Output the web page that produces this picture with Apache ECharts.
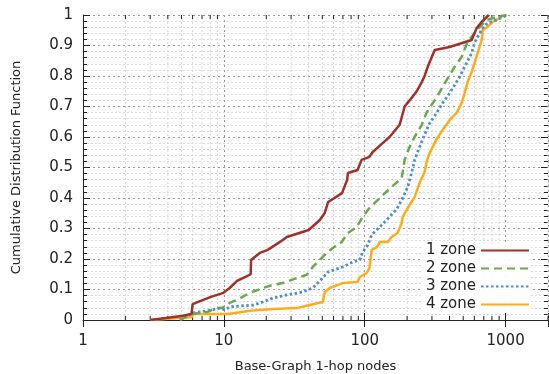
<!DOCTYPE html>
<html>
<head>
<meta charset="utf-8">
<script src="https://cdn.jsdelivr.net/npm/echarts@6/dist/echarts.min.js"></script>
<style>
  html, body { margin: 0; padding: 0; background: #fff; }
  #chart { width: 549px; height: 374px; }
</style>
</head>
<body>
<div id="chart"></div>
<script>
// CDF points: [nodes, cumulative fraction]
var zone1 = [
  [3, 0], [5, 0.013], [5.9, 0.02], [6, 0.052], [8, 0.075], [9.8, 0.088], [11, 0.105],
  [12.4, 0.128], [14, 0.14], [15.5, 0.15], [15.6, 0.197], [18, 0.22], [20.5, 0.23],
  [25, 0.256], [28, 0.272], [40, 0.295], [48, 0.328], [52, 0.351], [55, 0.387],
  [69, 0.416], [75, 0.459], [76, 0.482], [89, 0.492], [95, 0.525], [108, 0.535],
  [114, 0.551], [134, 0.58], [150, 0.6], [177, 0.64], [192, 0.7], [208, 0.72],
  [234, 0.75], [254, 0.78], [266, 0.8], [280, 0.83], [314, 0.885], [401, 0.895],
  [574, 0.918], [623, 0.957], [676, 0.977], [760, 1.0]
];
var zone2 = [
  [4.9, 0], [6, 0.02], [7.6, 0.026], [8.9, 0.039], [9.7, 0.039], [11, 0.056],
  [12.4, 0.066], [15.3, 0.089], [18.9, 0.105], [22.3, 0.115], [26.2, 0.121],
  [33, 0.138], [38.8, 0.148], [42.8, 0.174], [48, 0.197], [53.8, 0.22], [59.3, 0.236],
  [68.7, 0.256], [75.7, 0.285], [87.7, 0.305], [96.8, 0.338], [108, 0.367],
  [128, 0.4], [150, 0.43], [183, 0.466], [192, 0.525], [208, 0.567], [226, 0.6],
  [254, 0.64], [275, 0.68], [324, 0.73], [382, 0.787], [435, 0.83], [487, 0.862],
  [537, 0.911], [602, 0.941], [654, 0.96], [733, 0.984], [863, 0.993], [1016, 1.0]
];
var zone3 = [
  [4.87, 0], [6, 0.023], [7.6, 0.03], [9.4, 0.039], [10.2, 0.033], [11, 0.043],
  [13, 0.046], [16.1, 0.049], [18.9, 0.059], [22.3, 0.072], [28, 0.082], [36.3, 0.092],
  [42.8, 0.105], [50.4, 0.138], [54.6, 0.157], [69.8, 0.174], [82.2, 0.19],
  [92.2, 0.197], [96.8, 0.223], [105, 0.246], [112, 0.279], [128, 0.305],
  [150, 0.338], [169, 0.364], [186, 0.4], [202, 0.436], [215, 0.482], [226, 0.525],
  [245, 0.567], [266, 0.607], [289, 0.646], [324, 0.679], [357, 0.711], [401, 0.744],
  [472, 0.797], [529, 0.843], [574, 0.875], [602, 0.908], [633, 0.928], [687, 0.957],
  [745, 0.974], [863, 0.984], [952, 0.993], [1033, 1.0]
];
var zone4 = [
  [3, 0], [5.1, 0.007], [5.93, 0.01], [6, 0.02], [10.7, 0.02], [11, 0.026],
  [15.3, 0.03], [22.3, 0.036], [33, 0.039], [40.7, 0.049], [50.4, 0.059], [52, 0.092],
  [56.4, 0.105], [69.8, 0.121], [89, 0.125], [92.2, 0.141], [103, 0.154], [108, 0.17],
  [112, 0.23], [122, 0.239], [128, 0.256], [146, 0.256], [155, 0.272], [171, 0.285],
  [183, 0.318], [186, 0.338], [208, 0.377], [226, 0.403], [245, 0.449], [266, 0.485],
  [275, 0.518], [289, 0.548], [324, 0.593], [357, 0.623], [401, 0.656], [449, 0.679],
  [487, 0.711], [512, 0.744], [537, 0.78], [574, 0.813], [602, 0.843], [633, 0.875],
  [676, 0.918], [687, 0.951], [745, 0.961], [809, 0.977], [906, 0.99], [950, 1.0]
];
var seriesNames = ['1 zone', '2 zone', '3 zone', '4 zone'];
var seriesColors = ['#a0302a', '#6aa84f', '#4a8fcc', '#ffab1a'];
// log-axis minor positions (2..9 in each decade)
var minorX = [2, 3, 4, 5, 6, 7, 8, 9, 20, 30, 40, 50, 60, 70, 80, 90,
  200, 300, 400, 500, 600, 700, 800, 900, 2000];

var myChart = echarts.init(document.getElementById('chart'));
var font = 'DejaVu Sans';

function isPow10(v) {
  var l = Math.log10(v);
  return Math.abs(l - Math.round(l)) < 1e-6;
}

var lineTypes = ['solid', [8, 5], [2.5, 2.5], 'solid'];
var widths = [2.5, 2.5, 2.8, 2.5];

var series = seriesNames.map(function (name, i) {
  return {
    name: name,
    type: 'line',
    data: [zone1, zone2, zone3, zone4][i],
    showSymbol: false,
    symbol: 'none',
    z: 10 - i,
    lineStyle: { color: seriesColors[i], width: widths[i], type: lineTypes[i] },
    itemStyle: { color: seriesColors[i] }
  };
});

// minor x grid lines + ticks, drawn through the axis scale
series.push({
  type: 'custom',
  silent: true,
  z: 1,
  data: minorX.map(function (v) { return [v]; }),
  renderItem: function (params, api) {
    var v = api.value(0);
    var b = api.coord([v, 0]);
    var t = api.coord([v, 1]);
    return {
      type: 'group',
      children: [
        { type: 'line', shape: { x1: b[0], y1: b[1], x2: t[0], y2: t[1] },
          style: { stroke: '#d8d8d8', lineWidth: 1, lineDash: [2, 2] } },
        { type: 'line', shape: { x1: b[0], y1: b[1], x2: b[0], y2: b[1] - 4 },
          style: { stroke: '#222', lineWidth: 1 } },
        { type: 'line', shape: { x1: t[0], y1: t[1], x2: t[0], y2: t[1] + 4 },
          style: { stroke: '#222', lineWidth: 1 } }
      ]
    };
  }
});

var option = {
  animation: false,
  textStyle: { fontFamily: font },
  grid: { left: 83, right: 1, top: 15, bottom: 54, outerBoundsMode: 'none', containLabel: false },
  legend: {
    orient: 'vertical',
    right: 19,
    top: 243,
    align: 'right',
    itemWidth: 48,
    itemHeight: 12,
    itemGap: 3,
    data: seriesNames,
    itemStyle: { opacity: 0 },
    textStyle: { fontFamily: font, fontSize: 15, color: '#222' },
    backgroundColor: 'rgba(255,255,255,0.9)',
    padding: [0, 0, 0, 4]
  },
  xAxis: [{
    type: 'log',
    logBase: 10,
    min: 1,
    max: 2000,
    name: 'Base-Graph 1-hop nodes',
    nameLocation: 'middle',
    nameGap: 40,
    nameTextStyle: { fontFamily: font, fontSize: 13, color: '#222' },
    axisLine: { show: true, onZero: false, lineStyle: { color: '#222', width: 1 } },
    axisTick: { show: true, inside: true, length: 7, lineStyle: { color: '#222' } },
    axisLabel: {
      margin: 14,
      fontSize: 15,
      color: '#222',
      fontFamily: font,
      formatter: function (v) { return isPow10(v) ? String(Math.round(v)) : ''; }
    },
    splitLine: { show: true, lineStyle: { color: '#999', type: [2, 3], width: 1 } }
  }, {
    type: 'log',
    logBase: 10,
    min: 1,
    max: 2000,
    position: 'top',
    axisLine: { show: false },
    axisTick: { show: true, inside: true, length: 7, lineStyle: { color: '#222' } },
    axisLabel: { show: false },
    splitLine: { show: false }
  }],
  yAxis: [{
    type: 'value',
    min: 0,
    max: 1,
    interval: 0.1,
    name: 'Cumulative Distribution Function',
    nameLocation: 'middle',
    nameGap: 60,
    nameTextStyle: { fontFamily: font, fontSize: 13, color: '#222' },
    axisLine: { show: true, lineStyle: { color: '#222', width: 1 } },
    axisTick: { show: true, inside: true, length: 7, lineStyle: { color: '#222' } },
    minorTick: { show: true, splitNumber: 5, length: 4, lineStyle: { color: '#222' } },
    axisLabel: {
      margin: 10, fontSize: 15, color: '#222', fontFamily: font,
      formatter: function (v) { return String(Math.round(v * 10) / 10); }
    },
    splitLine: { show: true, lineStyle: { color: '#999', type: [2, 3], width: 1 } },
    minorSplitLine: { show: true, lineStyle: { color: '#dcdcdc', type: [2, 2], width: 1 } }
  }, {
    type: 'value',
    min: 0,
    max: 1,
    interval: 0.1,
    position: 'right',
    axisLine: { show: false },
    axisTick: { show: true, inside: true, length: 7, lineStyle: { color: '#222' } },
    minorTick: { show: true, splitNumber: 5, length: 4, lineStyle: { color: '#222' } },
    axisLabel: { show: false },
    splitLine: { show: false }
  }],
  series: series
};

myChart.setOption(option);

window.addEventListener('resize', function () {
  myChart.resize();
});
</script>
</body>
</html>
